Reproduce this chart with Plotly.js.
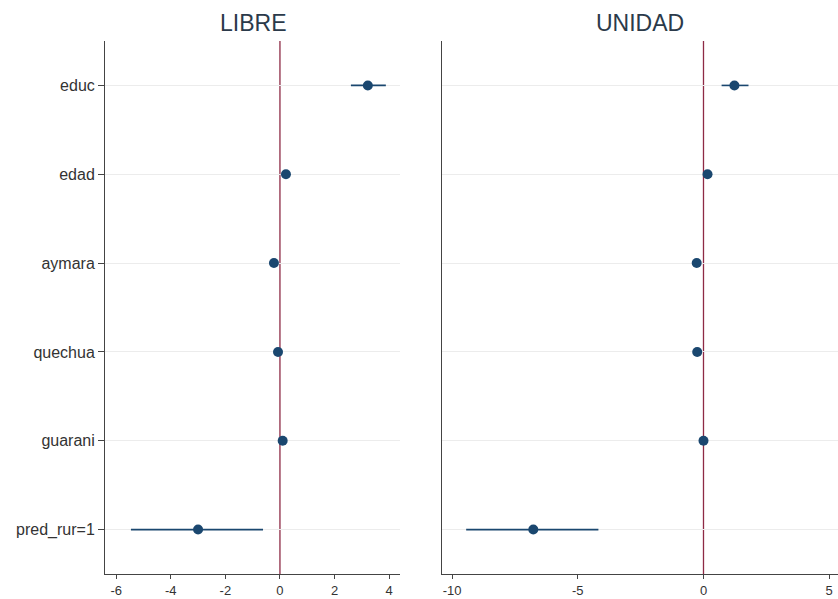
<!DOCTYPE html>
<html>
<head>
<meta charset="utf-8">
<script src="https://cdn.plot.ly/plotly-3.0.1.min.js"></script>
<style>html,body{margin:0;padding:0;background:#fff;}#chart{width:838px;height:599px;}</style>
</head>
<body>
<div id="chart"></div>
<script>
const categories = ["educ", "edad", "aymara", "quechua", "guarani", "pred_rur=1"];
const libreCoef = [3.22, 0.22, -0.22, -0.07, 0.10, -3.00];
const libreLow  = [2.60, 0.12, -0.30, -0.15, 0.02, -5.46];
const libreHigh = [3.88, 0.32, -0.14, 0.01, 0.18, -0.62];
const unidadCoef = [1.23, 0.16, -0.27, -0.25, 0.00, -6.77];
const unidadLow  = [0.72, 0.06, -0.35, -0.33, -0.08, -9.44];
const unidadHigh = [1.79, 0.26, -0.19, -0.17, 0.08, -4.18];
const panelTitles = ["LIBRE", "UNIDAD"];
const libreTicks = [-6, -4, -2, 0, 2, 4];
const unidadTicks = [-10, -5, 0, 5];

const navy = "#1a476f";
function trace(coef, lo, hi, xa, ya) {
  return {
    type: "scatter", mode: "markers",
    x: coef, y: categories, xaxis: xa, yaxis: ya,
    marker: {color: navy, size: 10},
    error_x: {type: "data", symmetric: false,
      array: hi.map((h, i) => h - coef[i]),
      arrayminus: coef.map((c, i) => c - lo[i]),
      color: navy, thickness: 1.6, width: 0},
    showlegend: false, hoverinfo: "x+y"
  };
}
const data = [
  trace(libreCoef, libreLow, libreHigh, "x", "y"),
  trace(unidadCoef, unidadLow, unidadHigh, "x2", "y2")
];
const axisFont = {family: "Liberation Sans, Arial, sans-serif", size: 16, color: "#333"};
const xFont = {family: "Liberation Sans, Arial, sans-serif", size: 13, color: "#333"};
const yBase = {
  type: "category", categoryorder: "array", categoryarray: categories,
  range: [5.5, -0.5], showgrid: true, gridcolor: "#ececec", gridwidth: 1,
  showline: true, linecolor: "#444", linewidth: 1, zeroline: false,
  tickfont: axisFont, fixedrange: true
};
const xBase = {
  showgrid: false, zeroline: false, showline: true, linecolor: "#444", linewidth: 1,
  ticks: "outside", ticklen: 4, tickcolor: "#444", tickfont: xFont, tickmode: "array"
};
const layout = {
  width: 838, height: 599,
  margin: {l: 105, r: 0, t: 41, b: 25},
  paper_bgcolor: "#fff", plot_bgcolor: "#fff",
  font: {family: "Liberation Sans, Arial, sans-serif"},
  xaxis: Object.assign({}, xBase, {domain: [0, 0.4025], range: [-6.41, 4.4], tickvals: libreTicks, ticktext: libreTicks.map(String), anchor: "y"}),
  xaxis2: Object.assign({}, xBase, {domain: [0.4598, 1], range: [-10.4, 5.35], tickvals: unidadTicks, ticktext: unidadTicks.map(String), anchor: "y2"}),
  yaxis: Object.assign({}, yBase, {anchor: "x", ticks: "outside", ticklen: 6, tickcolor: "#444"}),
  yaxis2: Object.assign({}, yBase, {anchor: "x2", showticklabels: false, ticks: ""}),
  shapes: [
    {type: "line", xref: "x", yref: "y domain", x0: 0, x1: 0, y0: 0, y1: 1, line: {color: "#8e2a45", width: 1.3}, layer: "below"},
    {type: "line", xref: "x2", yref: "y2 domain", x0: 0, x1: 0, y0: 0, y1: 1, line: {color: "#8e2a45", width: 1.3}, layer: "below"}
  ],
  annotations: [
    {text: panelTitles[0], xref: "x domain", yref: "paper", x: 0.5, y: 1, yanchor: "bottom", yshift: 3, showarrow: false,
     font: {family: "Liberation Sans, Arial, sans-serif", size: 23, color: "#2b3a4a"}},
    {text: panelTitles[1], xref: "x2 domain", yref: "paper", x: 0.5, y: 1, yanchor: "bottom", yshift: 3, showarrow: false,
     font: {family: "Liberation Sans, Arial, sans-serif", size: 23, color: "#2b3a4a"}}
  ]
};
Plotly.newPlot("chart", data, layout, {displayModeBar: false, staticPlot: true});
</script>
</body>
</html>
